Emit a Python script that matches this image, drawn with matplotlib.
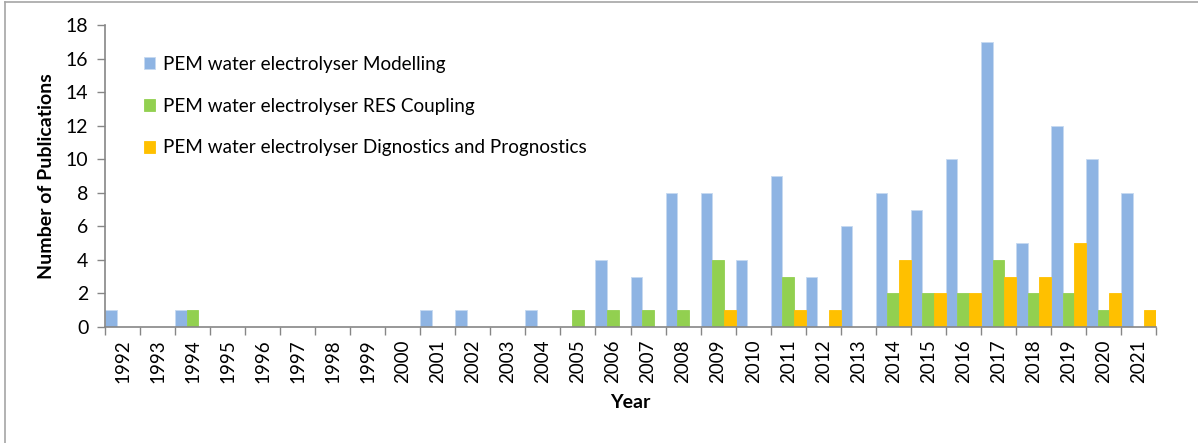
import matplotlib
matplotlib.use("Agg")
import matplotlib.pyplot as plt
import numpy as np

years = [str(y) for y in range(1992, 2022)]
modelling = [1, 0, 1, 0, 0, 0, 0, 0, 0, 1, 1, 0, 1, 0, 4, 3, 8, 8, 4, 9,
             3, 6, 8, 7, 10, 17, 5, 12, 10, 8]
res_coupling = [0, 0, 1, 0, 0, 0, 0, 0, 0, 0, 0, 0, 0, 1, 1, 1, 1, 4, 0, 3,
                0, 0, 2, 2, 2, 4, 2, 2, 1, 0]
diagnostics = [0, 0, 0, 0, 0, 0, 0, 0, 0, 0, 0, 0, 0, 0, 0, 0, 0, 1, 0, 1,
               1, 0, 4, 2, 2, 3, 3, 5, 2, 1]
labels = ["PEM water electrolyser Modelling",
          "PEM water electrolyser RES Coupling",
          "PEM water electrolyser Dignostics and Prognostics"]
colors = ["#8EB4E3", "#92D050", "#FFC000"]

plt.rcParams["font.family"] = ["Lato", "DejaVu Sans"]
W, H = 1198, 443
fig = plt.figure(figsize=(W / 100, H / 100), dpi=100)
ax = fig.add_axes([105 / W, 1 - 327 / H, (1156 - 105) / W, (327 - 25) / H])

x = np.arange(len(years))
w = 1 / 3
for i, (vals, lab, col) in enumerate(zip([modelling, res_coupling, diagnostics], labels, colors)):
    ax.bar(x + i * w, vals, width=w, align="edge", color=col, label=lab,
           edgecolor="#C6D9F1" if i == 0 else col, linewidth=0.6)

ax.set_xlim(0, len(years))
ax.set_ylim(0, 18)
ax.set_yticks(range(0, 19, 2))
ax.set_xticks(np.arange(len(years) + 1))
ax.set_xticklabels([])
ax.set_xticks(x + 0.5, minor=True)
ax.set_xticklabels(years, minor=True, rotation=90, fontsize=13.5)
ax.tick_params(axis="x", which="major", length=6, color="#868686", width=1)
ax.tick_params(axis="x", which="minor", length=0, pad=9)
ax.tick_params(axis="y", length=6, color="#868686", width=1, labelsize=14, pad=6)

for s in ["top", "right"]:
    ax.spines[s].set_visible(False)
for s in ["left", "bottom"]:
    ax.spines[s].set_color("#868686")
    ax.spines[s].set_linewidth(1.2)

ax.set_ylabel("Number of Publications", fontsize=14, fontweight="bold", labelpad=8)
ax.set_xlabel("Year", fontsize=14, fontweight="bold", labelpad=8)

ax.legend(loc="upper left", bbox_to_anchor=(0.03, 0.922), frameon=False,
          fontsize=13.6, handlelength=0.6, handleheight=0.6, handletextpad=0.4,
          labelspacing=1.3, borderaxespad=0)

# outer frame of the chart area
fig.add_artist(plt.Line2D([5 / W, 5 / W], [0, 1 - 2 / H], color="#A6A6A6", lw=1.2))
fig.add_artist(plt.Line2D([5 / W, 1], [1 - 2 / H, 1 - 2 / H], color="#A6A6A6", lw=1.2))

fig.savefig("out.png", dpi=100)
